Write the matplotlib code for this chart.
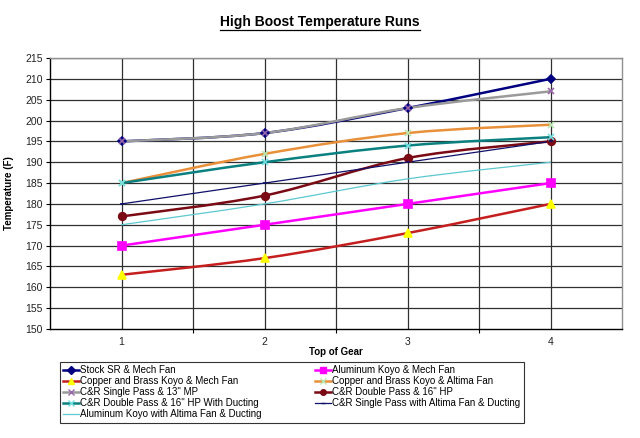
import matplotlib
matplotlib.use("Agg")
import matplotlib.pyplot as plt
from matplotlib.path import Path
from matplotlib.patches import PathPatch
from matplotlib.lines import Line2D
import numpy as np

plt.rcParams['font.family'] = ['Liberation Sans', 'DejaVu Sans']

gears = [1, 2, 3, 4]
gear_labels = ["1", "2", "3", "4"]

stock_sr_mech = [195, 197, 203, 210]
alu_koyo_mech = [170, 175, 180, 185]
cb_koyo_mech = [163, 167, 173, 180]
cb_koyo_altima = [185, 192, 197, 199]
cr_single_13mp = [195, 197, 203, 207]
cr_double_16hp = [177, 182, 191, 195]
cr_double_16hp_duct = [185, 190, 194, 196]
cr_single_altima_duct = [180, 185, 190, 195]
alu_koyo_altima_duct = [175, 180, 186, 190]

series = [
    ("Stock SR & Mech Fan", stock_sr_mech,
     dict(color="#000080", lw=1.8, marker="D", mfc="#000080", mec="#000080", ms=4)),
    ("Aluminum Koyo & Mech Fan", alu_koyo_mech,
     dict(color="#FF00FF", lw=1.8, marker="s", mfc="#FF00FF", mec="#FF00FF", ms=5.5)),
    ("Copper and Brass Koyo & Mech Fan", cb_koyo_mech,
     dict(color="#C41E1E", lw=1.8, marker="^", mfc="#FFFF00", mec="#FFFF00", ms=5.5)),
    ("Copper and Brass Koyo & Altima Fan", cb_koyo_altima,
     dict(color="#E8903A", lw=1.8, marker="x", mfc="#B8E8B0", mec="#B8E8B0", ms=4.5)),
    ("C&R Single Pass & 13\" MP", cr_single_13mp,
     dict(color="#9A9A9A", lw=1.8, marker="x", mfc="#9966AA", mec="#9966AA", ms=4.5)),
    ("C&R Double Pass & 16\" HP", cr_double_16hp,
     dict(color="#7A0A14", lw=1.8, marker="o", mfc="#7A0A14", mec="#7A0A14", ms=5.5)),
    ("C&R Double Pass & 16\" HP With Ducting", cr_double_16hp_duct,
     dict(color="#0A8080", lw=1.8, marker="x", mfc="#70E0E0", mec="#70E0E0", ms=4.5)),
    ("C&R Single Pass with Altima Fan & Ducting", cr_single_altima_duct,
     dict(color="#10106A", lw=0.9, marker="_", mfc="#10106A", mec="#10106A", ms=3.5)),
    ("Aluminum Koyo with Altima Fan & Ducting", alu_koyo_altima_duct,
     dict(color="#5CC8D0", lw=0.9, marker=None, mfc="none", mec="none", ms=0)),
]


def smooth_path(xs, ys):
    """Cubic Bezier path through the points (Catmull-Rom style control points)."""
    pts = np.column_stack([xs, ys]).astype(float)
    n = len(pts)
    verts = [pts[0]]
    codes = [Path.MOVETO]
    for i in range(n - 1):
        p0 = pts[i - 1] if i > 0 else pts[i]
        p1 = pts[i]
        p2 = pts[i + 1]
        p3 = pts[i + 2] if i + 2 < n else pts[i + 1]
        c1 = p1 + (p2 - p0) / 6.0
        c2 = p2 - (p3 - p1) / 6.0
        verts += [c1, c2, p2]
        codes += [Path.CURVE4] * 3
    return Path(verts, codes)


fig = plt.figure(figsize=(6.4, 4.38), dpi=100)
ax = fig.add_axes([50 / 640, 1 - 329 / 438, 572 / 640, 271 / 438])

ax.set_xlim(0.5, 4.5)
ax.set_ylim(150, 215)
ax.set_yticks(np.arange(150, 216, 5))
ax.set_xticks(gears)
ax.set_xticklabels(gear_labels)
ax.set_xticks([1.5, 2.5, 3.5], minor=True)

grid_color = "#303030"
for v in np.arange(155, 216, 5):
    ax.axhline(v, color=grid_color, lw=0.9, zorder=0.5)
for v in [1, 1.5, 2, 2.5, 3, 3.5, 4]:
    ax.axvline(v, color=grid_color, lw=0.9, zorder=0.5)

for name, vals, st in series:
    patch = PathPatch(smooth_path(gears, vals), fill=False,
                      edgecolor=st["color"], lw=st["lw"], zorder=2,
                      capstyle="round", joinstyle="round")
    ax.add_patch(patch)
    if st["marker"]:
        ax.plot(gears, vals, linestyle="none", marker=st["marker"],
                mfc=st["mfc"], mec=st["mec"], ms=st["ms"], mew=1.2, zorder=3)

for side in ["top", "right"]:
    ax.spines[side].set_color("#909090")
    ax.spines[side].set_linewidth(1.0)
for side in ["left", "bottom"]:
    ax.spines[side].set_color("#000000")
    ax.spines[side].set_linewidth(1.0)

ax.tick_params(axis="y", length=3, width=0.8, labelsize=7.5, colors="#000000",
               labelcolor="#222222", pad=2)
ax.tick_params(axis="x", which="major", length=0, labelsize=7.5,
               labelcolor="#222222", pad=6)
ax.tick_params(axis="x", which="minor", length=3, width=0.8)

ax.set_ylabel("Temperature (F)", fontsize=7, fontweight="bold", labelpad=8)
ax.set_xlabel("Top of Gear", fontsize=7, fontweight="bold", labelpad=0)

title = fig.text(0.5, 1 - 22 / 438, "High Boost Temperature Runs",
                 ha="center", va="center", fontsize=10, fontweight="bold")

handles = []
labels = []
for name, vals, st in series:
    h = Line2D([], [], color=st["color"], lw=st["lw"],
               marker=st["marker"] if st["marker"] else None,
               mfc=st["mfc"], mec=st["mec"], ms=min(st["ms"], 4), mew=1.0)
    handles.append(h)
    labels.append(name)

# legend reads across rows: left column takes even entries, right column odd ones
order = list(range(0, len(series), 2)) + list(range(1, len(series), 2))
leg = fig.legend([handles[i] for i in order], [labels[i] for i in order],
                 ncol=2, loc="upper left",
                 bbox_to_anchor=(60 / 640, 1 - 362 / 438),
                 fontsize=7, frameon=True, fancybox=False, edgecolor="#000000",
                 handlelength=1.6, handletextpad=0.15, columnspacing=5.5,
                 borderpad=0.35, labelspacing=0.1, borderaxespad=0)
leg.get_frame().set_linewidth(0.8)

# underline beneath the title
fig.canvas.draw()
bb = title.get_window_extent().transformed(fig.transFigure.inverted())
fig.add_artist(Line2D([bb.x0, bb.x1], [bb.y0 - 0.002, bb.y0 - 0.002],
                      transform=fig.transFigure, color="black", lw=0.9))

fig.savefig("out.png", dpi=100)
